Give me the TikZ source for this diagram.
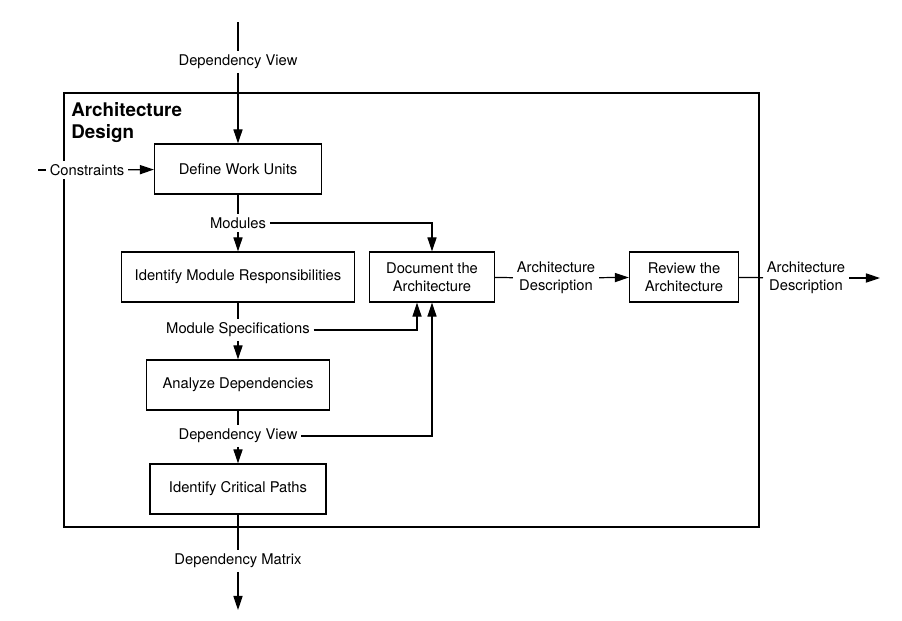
\documentclass[tikz,border=0pt]{standalone}
\usepackage{fontspec}
\setmainfont{TeX Gyre Heros}
\usetikzlibrary{calc}
\usetikzlibrary{arrows.meta}
\tikzstyle{task}=[draw,line width=0.7pt,minimum height=1cm,align=center,font=\fontsize{8.4}{10.2}\selectfont]
\tikzstyle{flowlabel}=[fill=white,inner sep=2pt,align=center,font=\fontsize{8.4}{10.2}\selectfont]
\tikzstyle{flow}=[-{Triangle[length=8pt,width=5.2pt]},line width=0.7pt]
\tikzstyle{plain}=[line width=0.7pt]
\begin{document}
\begin{tikzpicture}[x=0.02cm,y=-0.02cm]
  \useasboundingbox (0,0) rectangle (902,620);
  % frame
  \draw[plain] (64,93) rectangle (759,527);
  \node[anchor=north west,align=left,inner sep=0pt,font=\bfseries\fontsize{10.7}{12.5}\selectfont] (title) at (71,102) {Architecture\\Design};
  % tasks
  \node[task,minimum width=3.34cm] (define) at (238,169) {Define Work Units};
  \node[task,minimum width=4.66cm] (resp) at (238,277) {Identify Module Responsibilities};
  \node[task,minimum width=2.5cm] (doc) at (432,277) {Document the\\Architecture};
  \node[task,minimum width=3.66cm] (analyze) at (238,385) {Analyze Dependencies};
  \node[task,minimum width=3.52cm] (critical) at (238,489) {Identify Critical Paths};
  \node[task,minimum width=2.18cm] (review) at (684,277) {Review the\\Architecture};
  % labels
  \node[flowlabel] (depin) at (238,62) {Dependency View};
  \node[flowlabel] (constraints) at (87,170) {Constraints};
  \node[flowlabel] (modules) at (238,223) {Modules};
  \node[flowlabel] (specs) at (238,330) {Module Specifications};
  \node[flowlabel] (depview) at (238,436) {Dependency View};
  \node[flowlabel] (matrix) at (238,561) {Dependency Matrix};
  \node[flowlabel] (desc) at (556,278) {Architecture\\Description};
  \node[flowlabel] (descout) at (806,278) {Architecture\\Description};
  \coordinate (src) at (238,22);
  \coordinate (cin) at (38,170);
  \coordinate (sink) at (238,610);
  \coordinate (out) at (880,278);
  % connectors
  \draw[plain] (src) -- (depin);
  \draw[flow] (depin) -- (define);
  \draw[plain] (cin) -- (constraints);
  \draw[flow] (constraints) -- (define);
  \draw[plain] (define) -- (modules);
  \draw[flow] (modules) -- (resp);
  \draw[flow] (modules) -| (doc);
  \draw[plain] (resp) -- (specs);
  \draw[flow] (specs) -- (analyze);
  \draw[flow] (specs) -| ([xshift=-0.3cm]doc.south);
  \draw[plain] (analyze) -- (depview);
  \draw[flow] (depview) -- (critical);
  \draw[flow] (depview) -| (doc);
  \draw[plain] (critical) -- (matrix);
  \draw[flow] (matrix) -- (sink);
  \draw[plain] (doc) -- (desc);
  \draw[flow] (desc) -- (review);
  \draw[plain] (review) -- (descout);
  \draw[flow] (descout) -- (out);
\end{tikzpicture}
\end{document}
